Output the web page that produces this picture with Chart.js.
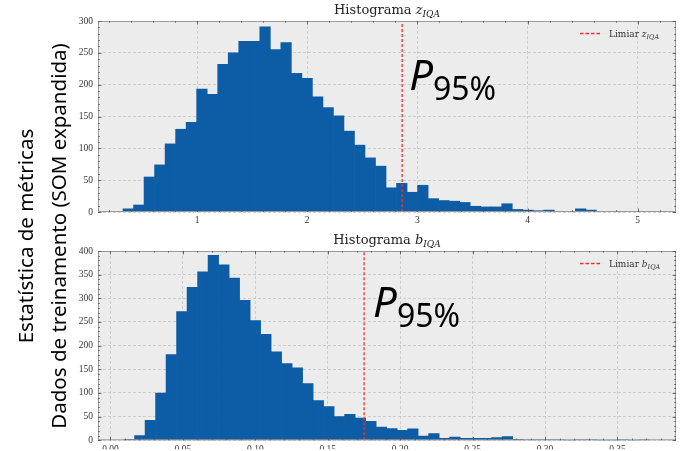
<!DOCTYPE html>
<html>
<head>
<meta charset="utf-8">
<script src="https://cdn.jsdelivr.net/npm/chart.js"></script>
<style>
  body { margin: 0; background: #fff; }
  #wrap { position: relative; width: 697px; height: 451px; overflow: hidden; }
  .box { position: absolute; left: 0; width: 697px; }
  #topBox { top: 0; height: 230px; }
  #botBox { top: 230px; height: 221px; }
  #ylab {
    position: absolute; left: -166px; top: 201px; width: 420px; height: 70px;
    transform: rotate(-90deg); transform-origin: center;
    font-family: "Noto Sans", sans-serif; font-size: 20.5px; line-height: 33px;
    text-align: center; color: #000; white-space: nowrap;
  }
</style>
</head>
<body>
<div id="wrap">
  <div class="box" id="topBox"><canvas id="zChart"></canvas></div>
  <div class="box" id="botBox"><canvas id="bChart"></canvas></div>
  <div id="ylab">Estatística de métricas<br>Dados de treinamento (SOM expandida)</div>
</div>
<script>
// Histograma z_IQA (50 bins)
const zCounts = [5, 11, 55, 74, 107, 130, 141, 193, 185, 232, 250, 268, 268, 291, 255,
  266, 218, 210, 181, 164, 151, 127, 105, 85, 72, 38, 45, 31, 42, 21, 18, 17, 15, 9, 8,
  8, 13, 4, 3, 2, 3, 1, 1, 5, 3, 1, 0, 0, 0, 1];
const zBinStart = 0.328;
const zBinWidth = 0.0955;
const zThreshold = 2.862;
const zTickValues = [1, 2, 3, 4, 5];
const zTickLabels = ["1", "2", "3", "4", "5"];

// Histograma b_IQA (50 bins)
const bCounts = [2, 10, 42, 100, 181, 272, 323, 356, 391, 371, 343, 296, 253, 224, 187,
  162, 153, 120, 84, 71, 50, 55, 47, 40, 28, 25, 21, 24, 9, 14, 4, 7, 4, 4, 4, 6, 8, 2,
  1, 1, 1, 1, 0, 1, 1, 0, 0, 1, 0, 1];
const bBinStart = 0.0094;
const bBinWidth = 0.00725;
const bThreshold = 0.1751;
const bTickValues = [0, 0.05, 0.10, 0.15, 0.20, 0.25, 0.30, 0.35];
const bTickLabels = ["0.00", "0.05", "0.10", "0.15", "0.20", "0.25", "0.30", "0.35"];

const SERIF = '"DejaVu Serif", "Liberation Serif", serif';
const TICK_SERIF = '"Liberation Serif", "DejaVu Serif", serif';
const SANS = '"Noto Sans", "Open Sans", sans-serif';
const BAR_BLUE = "#0C5DA5";
const RED = "#f03030";

function binPoints(counts, start, width) {
  return counts.map((c, i) => ({ x: start + (i + 0.5) * width, y: c }));
}

// text with italic symbol + subscript
function mathText(ctx, parts, x, y, align) {
  let w = 0;
  parts.forEach(p => { ctx.font = p.f; p.w = ctx.measureText(p.t).width; w += p.w; });
  let cx = align === "center" ? x - w / 2 : x;
  ctx.textAlign = "left";
  ctx.textBaseline = "alphabetic";
  parts.forEach(p => { ctx.font = p.f; ctx.fillText(p.t, cx, y + (p.dy || 0)); cx += p.w; });
}

function rangeSteps(min, max, step) {
  const out = [];
  for (let v = Math.ceil(min / step - 1e-9) * step; v <= max + 1e-9; v += step) out.push(v);
  return out;
}

const deco = {
  id: "deco",
  beforeDraw(chart) {
    const { ctx, chartArea: a } = chart;
    ctx.save();
    ctx.fillStyle = "#ececec";
    ctx.fillRect(a.left, a.top, a.right - a.left, a.bottom - a.top);
    ctx.restore();
  },
  afterDraw(chart) {
    const o = chart.options.plugins.deco;
    const { ctx, chartArea: a } = chart;
    const xs = chart.scales.x, ys = chart.scales.y;
    ctx.save();

    // frame
    ctx.strokeStyle = "#9a9a9a";
    ctx.lineWidth = 1;
    ctx.strokeRect(a.left + 0.5, a.top + 0.5, a.right - a.left - 1, a.bottom - a.top - 1);

    // inward ticks on all sides
    ctx.strokeStyle = "#555";
    ctx.lineWidth = 0.8;
    const seg = (x1, y1, x2, y2) => { ctx.beginPath(); ctx.moveTo(x1, y1); ctx.lineTo(x2, y2); ctx.stroke(); };
    rangeSteps(xs.min, xs.max, o.xMinor).forEach(v => {
      const px = Math.round(xs.getPixelForValue(v)) + 0.5;
      seg(px, a.bottom, px, a.bottom - 1.8); seg(px, a.top, px, a.top + 1.8);
    });
    o.xMajor.forEach(v => {
      const px = Math.round(xs.getPixelForValue(v)) + 0.5;
      seg(px, a.bottom, px, a.bottom - 3.5); seg(px, a.top, px, a.top + 3.5);
    });
    rangeSteps(ys.min, ys.max, o.yMinor).forEach(v => {
      const py = Math.round(ys.getPixelForValue(v)) + 0.5;
      seg(a.left, py, a.left + 1.8, py); seg(a.right, py, a.right - 1.8, py);
    });
    rangeSteps(ys.min, ys.max, o.yMajor).forEach(v => {
      const py = Math.round(ys.getPixelForValue(v)) + 0.5;
      seg(a.left, py, a.left + 3.5, py); seg(a.right, py, a.right - 3.5, py);
    });

    // title
    ctx.fillStyle = "#222";
    mathText(ctx, [
      { t: "Histograma ", f: "13px " + SERIF },
      { t: o.sym, f: "italic 13px " + SERIF },
      { t: "IQA", f: "italic 9px " + SERIF, dy: 2.5 }
    ], (a.left + a.right) / 2, a.top - 7, "center");

    // legend
    ctx.strokeStyle = RED;
    ctx.lineWidth = 1.5;
    ctx.setLineDash([3.5, 2]);
    seg(a.right - 96, a.top + 12.5, a.right - 75, a.top + 12.5);
    ctx.setLineDash([]);
    ctx.fillStyle = "#333";
    mathText(ctx, [
      { t: "Limiar ", f: "9px " + SERIF },
      { t: o.sym, f: "italic 9px " + SERIF },
      { t: "IQA", f: "italic 6.5px " + SERIF, dy: 2 }
    ], a.right - 67, a.top + 15.5, "left");

    // P95% annotation
    ctx.fillStyle = "#000";
    const tx = xs.getPixelForValue(o.threshold);
    mathText(ctx, [
      { t: "P", f: "italic 42px " + SANS },
      { t: "95%", f: "32px " + SANS, dy: 10 }
    ], tx + o.annDx, a.top + o.annDy, "left");

    ctx.restore();
  }
};

function makeHist(id, counts, start, width, threshold, xMin, xMax, yMax,
                  tickValues, tickLabels, xMinor, sym, xAxisH, annDx, annDy) {
  return new Chart(id, {
    type: "bar",
    data: {
      datasets: [{
        data: binPoints(counts, start, width),
        backgroundColor: BAR_BLUE,
        borderWidth: 0,
        barPercentage: 1,
        categoryPercentage: 1,
        order: 2
      }, {
        type: "line",
        label: "Limiar",
        data: [{ x: threshold, y: 0 }, { x: threshold, y: yMax }],
        borderColor: RED,
        borderWidth: 1.3,
        borderDash: [3, 2],
        pointRadius: 0,
        fill: false,
        order: 1
      }]
    },
    options: {
      responsive: true,
      maintainAspectRatio: false,
      animation: false,
      events: [],
      layout: { padding: { top: 21, right: 21, left: 0, bottom: 0 } },
      plugins: {
        legend: { display: false },
        tooltip: { enabled: false },
        deco: { sym: sym, threshold: threshold, xMajor: tickValues, xMinor: xMinor,
                yMajor: 50, yMinor: 10, annDx: annDx, annDy: annDy }
      },
      scales: {
        x: {
          type: "linear",
          min: xMin, max: xMax,
          offset: false,
          z: 1,
          afterFit: s => { s.height = xAxisH; },
          afterBuildTicks: s => { s.ticks = tickValues.map(v => ({ value: v })); },
          grid: { offset: false, color: "rgba(185,185,185,0.75)", lineWidth: 0.8, drawTicks: false },
          border: { display: false, dash: [3, 2] },
          ticks: {
            padding: 3,
            color: "#333",
            font: { family: TICK_SERIF, size: 9.5 },
            maxRotation: 0,
            autoSkip: false,
            callback: (v) => tickLabels[tickValues.findIndex(t => Math.abs(t - v) < 1e-9)]
          }
        },
        y: {
          min: 0, max: yMax,
          z: 1,
          afterFit: s => { s.width = 98; },
          grid: { color: "rgba(185,185,185,0.75)", lineWidth: 0.8, drawTicks: false },
          border: { display: false, dash: [3, 2] },
          ticks: {
            stepSize: 50,
            padding: 5,
            color: "#333",
            font: { family: TICK_SERIF, size: 9.5 }
          }
        }
      }
    },
    plugins: [deco]
  });
}

makeHist("zChart", zCounts, zBinStart, zBinWidth, zThreshold, 0.1008, 5.348, 300,
  zTickValues, zTickLabels, 0.2, "z", 18, 7, 69);
makeHist("bChart", bCounts, bBinStart, bBinWidth, bThreshold, -0.0086, 0.3904, 400,
  bTickValues, bTickLabels, 0.01, "b", 9, 9, 66);
</script>
</body>
</html>
